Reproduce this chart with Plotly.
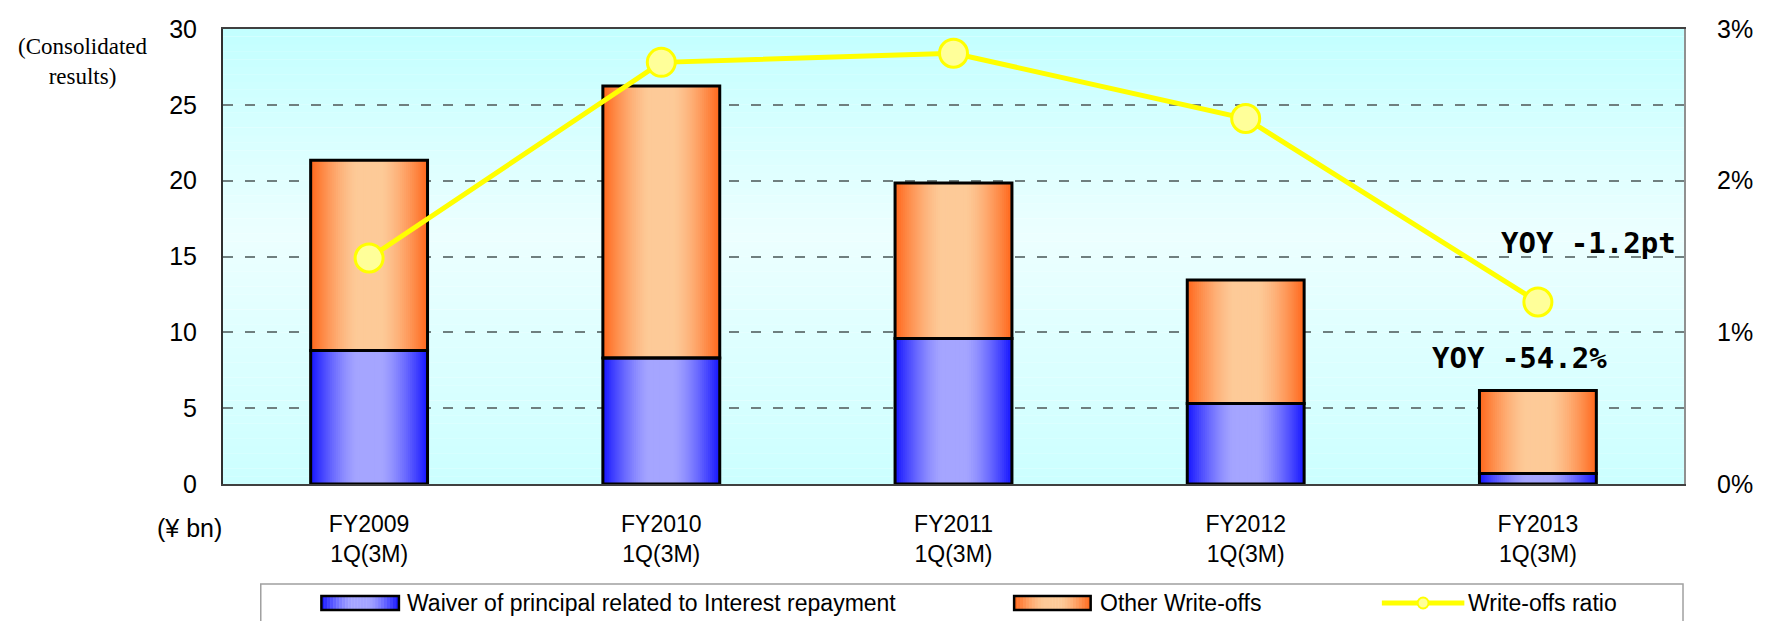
import numpy as np
import plotly.graph_objects as go

# ---- data -------------------------------------------------------------
categories = ["FY2009<br>1Q(3M)", "FY2010<br>1Q(3M)", "FY2011<br>1Q(3M)",
              "FY2012<br>1Q(3M)", "FY2013<br>1Q(3M)"]
waiver = [8.8, 8.3, 9.6, 5.3, 0.7]            # ¥ bn
other_writeoffs = [12.55, 17.95, 10.25, 8.15, 5.46]  # ¥ bn
writeoff_ratio = [1.49, 2.78, 2.84, 2.41, 1.20]      # %
y_ticks = [0, 5, 10, 15, 20, 25, 30]
ratio_ticks = [0, 1, 2, 3]
ratio_tick_labels = ["0%", "1%", "2%", "3%"]
series_names = ["Waiver of principal related to Interest repayment",
                "Other Write-offs", "Write-offs ratio"]
yoy_ratio_text = "YOY -1.2pt"
yoy_amount_text = "YOY -54.2%"

# ---- geometry / style -------------------------------------------------
W, H = 1765, 621
ML, MR, MT, MB = 223, 72, 29, 137
PW, PH = W - ML - MR, H - MT - MB
BAR_W = 0.4
N_LAYERS = 30

BLUE_EDGE, BLUE_MID = (20, 20, 255), (165, 165, 255)
ORANGE_EDGE, ORANGE_MID = (255, 102, 26), (253, 202, 152)
FONT = "Liberation Sans, Arial, sans-serif"


def mix(c1, c2, t):
    return "rgb(%d,%d,%d)" % tuple(round(a + (b - a) * t) for a, b in zip(c1, c2))


def shade(edge, mid, r):
    """r = 0 at the centre of a bar, 1 at its edge."""
    t = np.clip((r - 0.2) / 0.8, 0, 1) ** 1.4
    return mix(mid, edge, t)


def px_x(px):
    return (px - ML) / PW


def px_y(py):
    return (H - MB - py) / PH


fig = go.Figure()

# stacked bars, each drawn as concentric layers for a horizontal gradient
stack = [(waiver, None, BLUE_EDGE, BLUE_MID),
         (other_writeoffs, waiver, ORANGE_EDGE, ORANGE_MID)]
for vals, base, edge, mid in stack:
    for k in range(N_LAYERS):
        w = BAR_W * (N_LAYERS - k) / N_LAYERS
        r = (N_LAYERS - k - 0.5) / N_LAYERS
        fig.add_trace(go.Bar(
            x=categories, y=vals, base=base, width=w,
            marker=dict(color=shade(edge, mid, r), line_width=0),
            showlegend=False, hoverinfo="skip"))
for vals, base, _, _ in stack:
    fig.add_trace(go.Bar(
        x=categories, y=vals, base=base, width=BAR_W,
        marker=dict(color="rgba(0,0,0,0)", line=dict(color="black", width=3)),
        showlegend=False, hoverinfo="skip"))

# write-offs ratio line on the secondary axis
fig.add_trace(go.Scatter(
    x=categories, y=writeoff_ratio, yaxis="y2", mode="lines+markers",
    line=dict(color="#ffff00", width=5),
    marker=dict(size=28, color="#ffff99", line=dict(color="#ffff00", width=3)),
    showlegend=False, hoverinfo="skip"))

shapes = []
# plot-area background: vertical light-cyan gradient
top_c, mid_c, bot_c = (194, 255, 255), (236, 255, 255), (204, 255, 255)
NB = 60
for i in range(NB):
    f = (i + 0.5) / NB  # 0 bottom -> 1 top
    if f < 0.55:
        col = mix(bot_c, mid_c, f / 0.55)
    else:
        col = mix(mid_c, top_c, (f - 0.55) / 0.45)
    shapes.append(dict(type="rect", xref="x domain", yref="y domain",
                       x0=0, x1=1, y0=i / NB, y1=(i + 1.02) / NB,
                       fillcolor=col, line_width=0, layer="below"))

# legend box
shapes.append(dict(type="rect", xref="paper", yref="paper",
                   x0=px_x(261), x1=px_x(1692), y0=px_y(650), y1=px_y(584),
                   line=dict(color="#a0a0a0", width=1.5), fillcolor="white",
                   layer="above"))

annotations = []
LEG_Y = 603


def legend_swatch(x0, x1, edge, mid):
    n = 26
    step = (x1 - x0) / n
    for i in range(n):
        c = x0 + (i + 0.5) * step
        r = abs(c - (x0 + x1) / 2) / ((x1 - x0) / 2)
        shapes.append(dict(type="rect", xref="paper", yref="paper",
                           x0=px_x(x0 + i * step), x1=px_x(x0 + (i + 1) * step + 0.5),
                           y0=px_y(LEG_Y + 7), y1=px_y(LEG_Y - 7),
                           fillcolor=shade(edge, mid, r), line_width=0, layer="above"))
    shapes.append(dict(type="rect", xref="paper", yref="paper",
                       x0=px_x(x0), x1=px_x(x1), y0=px_y(LEG_Y + 7), y1=px_y(LEG_Y - 7),
                       line=dict(color="black", width=2.5), layer="above"))


legend_swatch(322, 400, BLUE_EDGE, BLUE_MID)
legend_swatch(1019, 1096, ORANGE_EDGE, ORANGE_MID)
shapes.append(dict(type="line", xref="paper", yref="paper",
                   x0=px_x(1389), x1=px_x(1472), y0=px_y(LEG_Y), y1=px_y(LEG_Y),
                   line=dict(color="#ffff00", width=5), layer="above"))
shapes.append(dict(type="circle", xref="paper", yref="paper",
                   x0=px_x(1425), x1=px_x(1436), y0=px_y(LEG_Y + 5.5), y1=px_y(LEG_Y - 5.5),
                   fillcolor="#ffff99", line=dict(color="#ffff00", width=2), layer="above"))

for text, x in zip(series_names, [406, 1103, 1474]):
    annotations.append(dict(text=text, xref="paper", yref="paper",
                            x=px_x(x), y=px_y(LEG_Y), xanchor="left", yanchor="middle",
                            showarrow=False, font=dict(family=FONT, size=23, color="black")))

# axis captions
annotations.append(dict(text="(Consolidated<br>results)", xref="paper", yref="paper",
                        x=px_x(82), y=px_y(62), xanchor="center", yanchor="middle",
                        showarrow=False, align="center",
                        font=dict(family="Liberation Serif, Times New Roman, serif",
                                  size=23, color="black")))
annotations.append(dict(text="(¥ bn)", xref="paper", yref="paper",
                        x=px_x(224), y=px_y(528), xanchor="right", yanchor="middle",
                        showarrow=False, font=dict(family=FONT, size=25, color="black")))

# year-on-year callouts
YOY_FONT = dict(family="DejaVu Sans Mono, monospace", size=29, color="black")
annotations.append(dict(text="<b>%s</b>" % yoy_ratio_text, x=4.48, y=15.9,
                        xref="x", yref="y", xanchor="right", yanchor="middle",
                        showarrow=False, font=YOY_FONT))
annotations.append(dict(text="<b>%s</b>" % yoy_amount_text, x=4.245, y=8.3,
                        xref="x", yref="y", xanchor="right", yanchor="middle",
                        showarrow=False, font=YOY_FONT))

fig.update_layout(
    width=W, height=H,
    margin=dict(l=ML, r=MR, t=MT, b=MB, pad=0),
    paper_bgcolor="white", plot_bgcolor="rgba(0,0,0,0)",
    barmode="overlay", bargap=0.6,
    showlegend=False,
    shapes=shapes, annotations=annotations,
    xaxis=dict(type="category", range=[-0.5, 4.5], showgrid=False,
               showline=True, linecolor="#404040", linewidth=2, mirror=True,
               ticks="", ticklabelstandoff=18,
               tickfont=dict(family=FONT, size=23, color="black")),
    yaxis=dict(range=[0, 30], tickvals=y_ticks, showgrid=True,
               gridcolor="#6f7f7f", gridwidth=1.5, griddash="10px,12px",
               zeroline=False, showline=True, linecolor="#303030", linewidth=2,
               ticks="", ticklabelstandoff=19,
               tickfont=dict(family=FONT, size=25, color="black")),
    yaxis2=dict(range=[0, 3], overlaying="y", side="right",
                tickvals=ratio_ticks, ticktext=ratio_tick_labels,
                showgrid=False, zeroline=False, showline=True,
                linecolor="#909090", linewidth=2, ticks="", ticklabelstandoff=26,
                tickfont=dict(family=FONT, size=25, color="black")),
)

fig.write_html("out.html")
